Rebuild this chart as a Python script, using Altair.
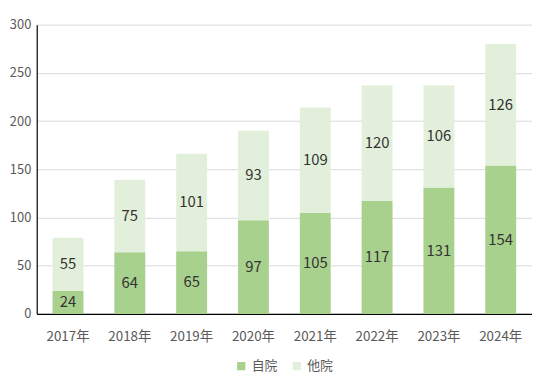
import altair as alt
import pandas as pd

years = ["2017年", "2018年", "2019年", "2020年", "2021年", "2022年", "2023年", "2024年"]
own = [24, 64, 65, 97, 105, 117, 131, 154]
other = [55, 75, 101, 93, 109, 120, 106, 126]
series = ["自院", "他院"]
colors = ["#a9d18e", "#e2efda"]

rows = []
for i, y in enumerate(years):
    rows.append({"year": y, "series": series[0], "order": 0, "value": own[i]})
    rows.append({"year": y, "series": series[1], "order": 1, "value": other[i]})
df = pd.DataFrame(rows)

FONT = "Noto Sans CJK JP"

base = alt.Chart(df).transform_stack(
    stack="value", groupby=["year"], as_=["v0", "v1"], sort=[alt.SortField("order")]
).transform_calculate(mid="(datum.v0 + datum.v1) / 2")

x = alt.X("year:N", sort=years, title=None,
          scale=alt.Scale(paddingInner=0.5, paddingOuter=0.256),
          axis=alt.Axis(labelAngle=0, labelFontSize=13.5, labelColor="#595959", labelFont=FONT,
                        ticks=False, domainColor="#000000", labelPadding=16))

bars = base.mark_bar().encode(
    x=x,
    y=alt.Y("v0:Q", title=None, scale=alt.Scale(domain=[0, 300]),
            axis=alt.Axis(values=[0, 50, 100, 150, 200, 250, 300], labelFontSize=13,
                          labelColor="#595959", labelFont=FONT, ticks=False,
                          gridColor="#d9d9d9", domainColor="#000000", labelPadding=6)),
    y2="v1:Q",
    color=alt.Color("series:N", sort=series,
                    scale=alt.Scale(domain=series, range=colors),
                    legend=alt.Legend(title=None, orient="none", direction="horizontal",
                                      legendX=200, legendY=338,
                                      symbolType="square", symbolSize=70, symbolStrokeWidth=0,
                                      labelFontSize=13, labelColor="#595959", labelFont=FONT,
                                      columnPadding=12)),
)

labels = base.mark_text(fontSize=15, color="#333333", font=FONT).encode(
    x=alt.X("year:N", sort=years),
    y="mid:Q",
    text="value:Q",
)

chart = (bars + labels).properties(
    width=500, height=292,
    autosize=alt.AutoSizeParams(type="none"),
    padding={"left": 29, "top": 15, "right": 0, "bottom": 69},
).configure_view(stroke=None).configure_axis(domainWidth=1.2)

chart.save("out.html", embed_options={"renderer": "svg", "actions": False})
